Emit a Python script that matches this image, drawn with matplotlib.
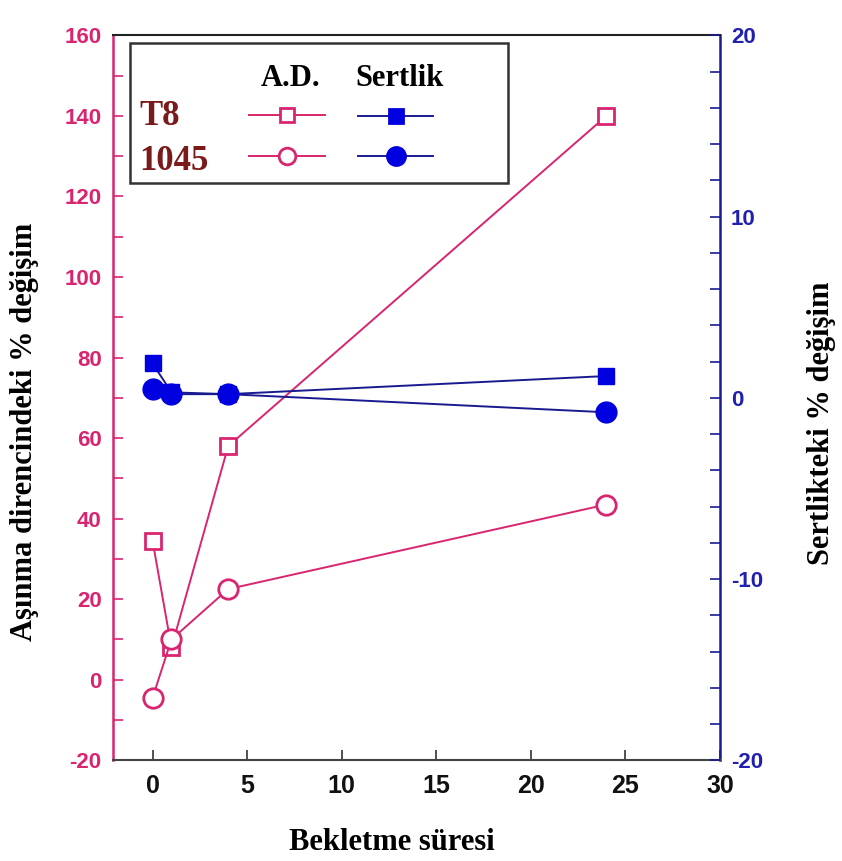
import matplotlib.pyplot as plt
from matplotlib.lines import Line2D
from matplotlib.patches import Rectangle
from matplotlib.ticker import MultipleLocator

# bekletme süresi (saat)
TIMES = [0, 1, 4, 24]

# aşınma direncindeki % değişim
AD_T8 = [34.5, 8, 58, 140]
AD_1045 = [-4.5, 10, 22.5, 43.5]

# sertlikteki % değişim
HARD_T8 = [1.9, 0.3, 0.2, 1.2]
HARD_1045 = [0.5, 0.2, 0.2, -0.8]

PINK = '#d9256f'
BLUE = '#0000e0'
NAVY = '#1a1a90'
DARKRED = '#7a1a1a'

SANS = ['Liberation Sans', 'DejaVu Sans']
SERIF = ['Liberation Serif', 'DejaVu Serif']


def main():
    plt.rcParams['axes.unicode_minus'] = False

    fig = plt.figure(figsize=(8.42, 8.61), dpi=100)
    ax = fig.add_axes([0.134, 0.117, 0.721, 0.842])
    ax2 = ax.twinx()

    # left axis: wear resistance
    ax.plot(TIMES, AD_T8, color=PINK, lw=1.4, marker='s', ms=11,
            mfc='white', mec=PINK, mew=2, zorder=3)
    ax.plot(TIMES, AD_1045, color=PINK, lw=1.4, marker='o', ms=14,
            mfc='white', mec=PINK, mew=2, zorder=3)

    # right axis: hardness
    ax2.plot(TIMES, HARD_T8, color=NAVY, lw=1.4, marker='s', ms=12,
             mfc=BLUE, mec=BLUE, zorder=3)
    ax2.plot(TIMES, HARD_1045, color=NAVY, lw=1.4, marker='o', ms=15,
             mfc=BLUE, mec=BLUE, zorder=3)

    ax.set_xlim(-2.1, 30)
    ax.set_ylim(-20, 160)
    ax2.set_ylim(-20, 20)

    ax.xaxis.set_major_locator(MultipleLocator(5))
    ax.yaxis.set_major_locator(MultipleLocator(20))
    ax.yaxis.set_minor_locator(MultipleLocator(10))
    ax2.yaxis.set_major_locator(MultipleLocator(10))
    ax2.yaxis.set_minor_locator(MultipleLocator(2))

    ax.tick_params(axis='x', direction='in', length=7, width=1.2,
                   colors='#333333', pad=10)
    ax.tick_params(axis='y', which='both', direction='in', length=7,
                   width=1.2, colors=PINK, pad=8)
    ax2.tick_params(axis='y', which='both', direction='in', length=7,
                    width=1.2, colors=NAVY, pad=8)

    for lbl in ax.get_xticklabels():
        lbl.set_fontfamily(SANS)
        lbl.set_fontweight('bold')
        lbl.set_fontsize(18)
        lbl.set_color('#111111')
    for lbl in ax.get_yticklabels():
        lbl.set_fontfamily(SANS)
        lbl.set_fontweight('bold')
        lbl.set_fontsize(16)
        lbl.set_color(PINK)
    for lbl in ax2.get_yticklabels():
        lbl.set_fontfamily(SANS)
        lbl.set_fontweight('bold')
        lbl.set_fontsize(16)
        lbl.set_color('#2020b0')

    for side in ['left', 'right', 'top', 'bottom']:
        ax2.spines[side].set_visible(False)
    ax.spines['left'].set_color(PINK)
    ax.spines['left'].set_linewidth(1.8)
    ax.spines['right'].set_color(NAVY)
    ax.spines['right'].set_linewidth(1.8)
    ax.spines['top'].set_color('#222222')
    ax.spines['top'].set_linewidth(1.5)
    ax.spines['bottom'].set_color('#444444')
    ax.spines['bottom'].set_linewidth(1.5)

    # axis titles
    fig.text(0.466, 0.022, 'Bekletme süresi', family=SERIF,
             fontweight='bold', fontsize=22, ha='center', va='center')
    fig.text(0.029, 0.498, 'Aşınma direncindeki % değişim', family=SERIF,
             fontweight='bold', fontsize=22, rotation=90, ha='center',
             va='center')
    fig.text(0.976, 0.508, 'Sertlikteki % değişim', family=SERIF,
             fontweight='bold', fontsize=22, rotation=90, ha='center',
             va='center')

    # legend box drawn by hand: columns A.D. / Sertlik, rows T8 / 1045
    tr = ax.transAxes
    ax.add_patch(Rectangle((0.028, 0.796), 0.623, 0.193, transform=tr,
                           facecolor='white', edgecolor='#333333', lw=1.8,
                           zorder=5))
    ax.text(0.293, 0.941, 'A.D.', transform=tr, family=SERIF,
            fontweight='bold', fontsize=22, ha='center', va='center',
            zorder=6)
    ax.text(0.473, 0.941, 'Sertlik', transform=tr, family=SERIF,
            fontweight='bold', fontsize=22, ha='center', va='center',
            zorder=6)
    ax.text(0.044, 0.888, 'T8', transform=tr, family=SERIF,
            fontweight='bold', fontsize=25, color=DARKRED, va='center',
            zorder=6)
    ax.text(0.044, 0.826, '1045', transform=tr, family=SERIF,
            fontweight='bold', fontsize=25, color=DARKRED, va='center',
            zorder=6)

    samples = [
        (0.287, 0.890, PINK, 's', 'white', PINK, 10),
        (0.287, 0.834, PINK, 'o', 'white', PINK, 12),
        (0.466, 0.888, NAVY, 's', BLUE, BLUE, 10),
        (0.466, 0.834, NAVY, 'o', BLUE, BLUE, 13),
    ]
    for xc, yc, lc, mk, fc, ec, ms in samples:
        ax.add_line(Line2D([xc - 0.062, xc + 0.062], [yc, yc], transform=tr,
                           color=lc, lw=1.4, zorder=6))
        ax.add_line(Line2D([xc], [yc], transform=tr, marker=mk, ms=ms,
                           mfc=fc, mec=ec, mew=2, ls='none', zorder=7))

    fig.savefig('out.png', dpi=100)


if __name__ == "__main__":
    main()
